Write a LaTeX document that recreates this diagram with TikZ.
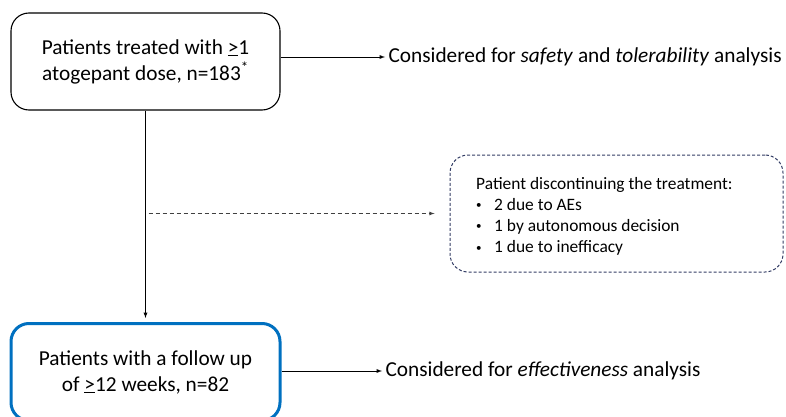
\documentclass[tikz,border=0pt]{standalone}
\usepackage{fontspec}
\setmainfont{Carlito}
\usetikzlibrary{arrows}

\definecolor{azulcaja}{RGB}{0,112,192}
\definecolor{azulrayas}{RGB}{50,60,100}

\newcommand{\vineta}{\raisebox{1.5pt}{\fontsize{11}{11}\selectfont\textbullet}}

\tikzset{
  caja/.style={draw, rounded corners=18pt, line width=1.1pt, minimum width=269pt,
    minimum height=97pt, align=center, font=\fontsize{21.3}{26}\selectfont},
  nota/.style={anchor=west, font=\fontsize{21.3}{26}\selectfont},
  flecha/.style={- latex, line width=0.9pt},
}

\begin{document}
\begin{tikzpicture}[x=1pt,y=-1pt]
\clip (0,0) rectangle (786,417);

%%%%%%%%%%%%%-------------cajas
\node[caja] (tratados) at (145.5,61.5) {Patients treated with \underline{>}1\\atogepant dose, n=183\textsuperscript{*}};
\node[caja, draw=azulcaja, line width=3pt] (seguidos) at (145.5,372) {Patients with a follow up\\of \underline{>}12 weeks, n=82};

\node[draw=azulrayas, dashed, dash pattern=on 3pt off 2pt, rounded corners=18pt, line width=1pt,
  minimum width=333pt, minimum height=117pt] (abandono) at (616.5,213.5) {};
\node[anchor=north west, inner sep=0pt, font=\fontsize{17.4}{21.2}\selectfont] (lista) at (476,174)
  {\begin{tabular}{@{}p{18pt}@{}l@{}}
   \multicolumn{2}{@{}l}{Patient discontinuing the treatment:}\\
   \vineta & 2 due to AEs\\
   \vineta & 1 by autonomous decision\\
   \vineta & 1 due to inefficacy
   \end{tabular}};

%%%%%%%%%%%%%-------------textos
\node[nota] (seguridad) at (385,57) {Considered for \textit{safety} and \textit{tolerability} analysis};
\node[nota] (efectividad) at (382,371) {Considered for \textit{effectiveness} analysis};

%%%%%%%%%%%%%-------------flechas
\draw[flecha] (tratados.east |- seguridad.west) -- (seguridad.west);
\draw[flecha] (seguidos.east |- efectividad.west) -- (efectividad.west);
\draw[flecha, shorten >=4pt] (tratados.south) -- (seguidos.north);
\coordinate (rama) at (tratados.south |- abandono.west);
\draw[flecha, line width=0.8pt, color=black!75, dash pattern=on 4pt off 3pt, shorten >=15pt]
  ([xshift=3pt]rama) -- (abandono.west);

\end{tikzpicture}
\end{document}
